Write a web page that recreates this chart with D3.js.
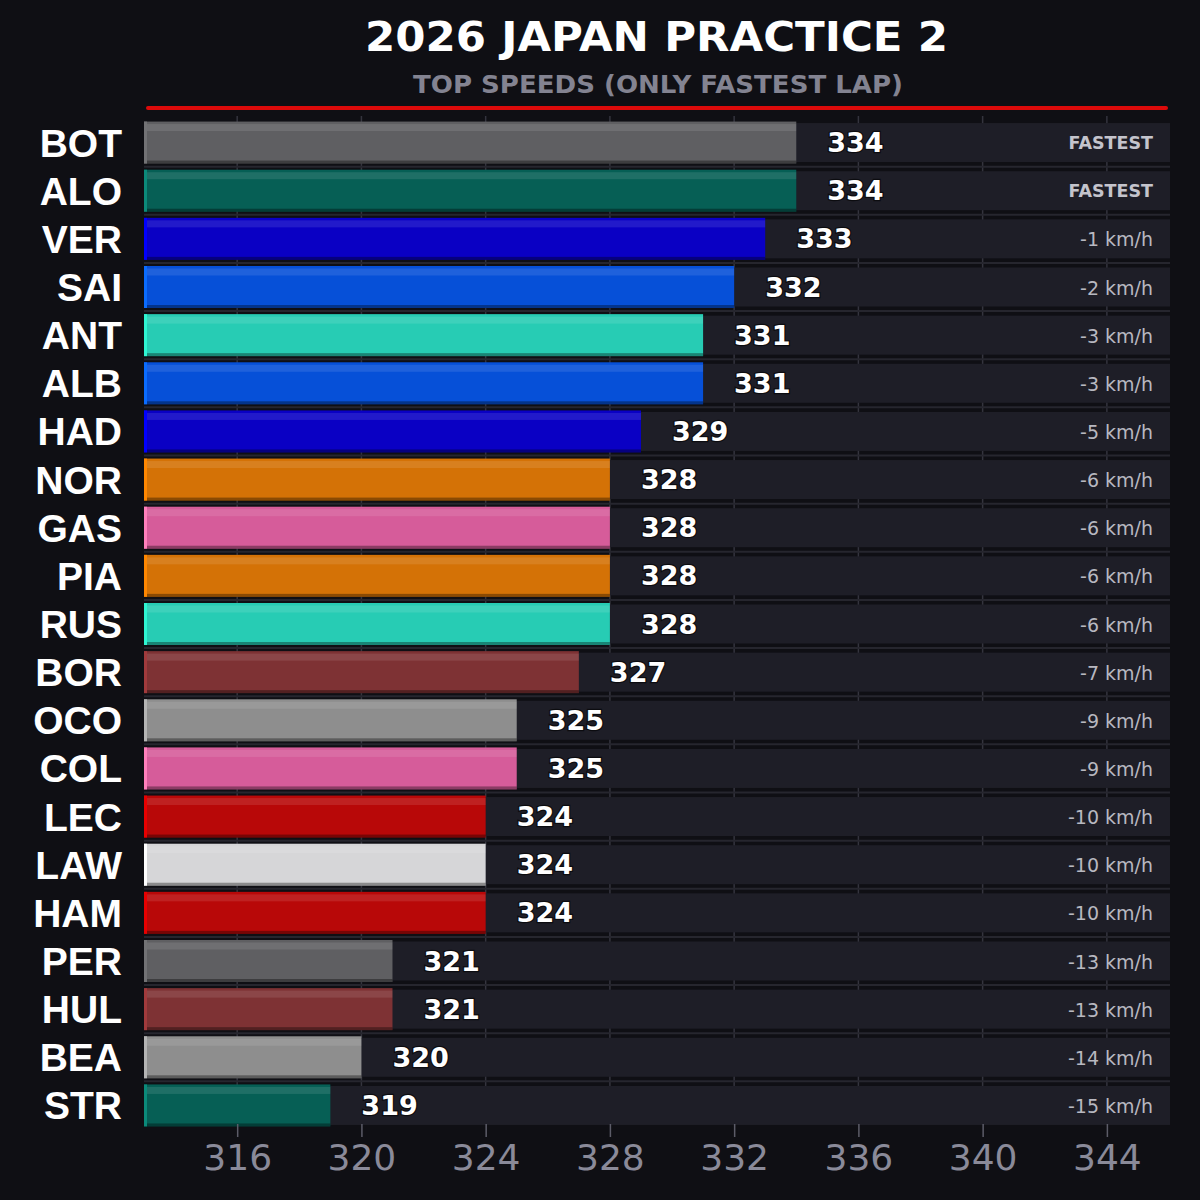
<!DOCTYPE html>
<html><head><meta charset="utf-8">
<script src="https://cdn.jsdelivr.net/npm/d3@7"></script>
<style>html,body{margin:0;padding:0;background:#0f0f14;}</style>
</head><body>
<svg id="chart" width="1200" height="1200"></svg>
<script>
const drivers = ["BOT","ALO","VER","SAI","ANT","ALB","HAD","NOR","GAS","PIA","RUS","BOR","OCO","COL","LEC","LAW","HAM","PER","HUL","BEA","STR"];
const speeds  = [334,334,333,332,331,331,329,328,328,328,328,327,325,325,324,324,324,321,321,320,319];
const barColors = ["#5f5f62","#065f55","#0a00c4","#0650d8","#27ccb4","#0650d8","#0a00c4","#d47206","#d65c9a","#d47206","#27ccb4","#7e3234","#8e8e8e","#d65c9a","#b80808","#d6d6d8","#b80808","#5f5f62","#7e3234","#8e8e8e","#065f55"];
const accentColors = ["#727275","#0b8a7a","#0000ff","#0a6cff","#2ef5d2","#0a6cff","#0000ff","#ff8700","#ff7fbb","#ff8700","#2ef5d2","#a03a3c","#b4b4b4","#ff7fbb","#e80000","#ffffff","#e80000","#727275","#a03a3c","#b4b4b4","#0b8a7a"];
const tickValues = [316,320,324,328,332,336,340,344];
const titleText = "2026 JAPAN PRACTICE 2";
const subtitleText = "TOP SPEEDS (ONLY FASTEST LAP)";

const svg = d3.select("#chart");
svg.append("rect").attr("width",1200).attr("height",1200).attr("fill","#0f0f14");

const x = d3.scaleLinear().domain([313,346]).range([144,1169]);
const y = d3.scaleBand().domain(drivers).range([118.5,1129.5]).paddingInner(0).paddingOuter(0);
const bw = y.bandwidth();
const cy = d => y(d) + bw/2;
const maxSpeed = d3.max(speeds);
const rows = drivers.map((d,i)=>({d, v:speeds[i], c:barColors[i], a:accentColors[i]}));

// title
svg.append("text").attr("x",656.5).attr("y",51).attr("text-anchor","middle")
  .attr("font-family","DejaVu Sans").attr("font-weight","bold").attr("font-size",41)
  .attr("fill","#ffffff").attr("textLength",583).attr("lengthAdjust","spacingAndGlyphs").text(titleText);
svg.append("text").attr("x",658).attr("y",93).attr("text-anchor","middle")
  .attr("font-family","DejaVu Sans").attr("font-weight","bold").attr("font-size",25)
  .attr("fill","#838391").attr("textLength",490).attr("lengthAdjust","spacingAndGlyphs").text(subtitleText);
svg.append("line").attr("x1",148).attr("x2",1166).attr("y1",108).attr("y2",108)
  .attr("stroke","#dc0a0a").attr("stroke-width",4).attr("stroke-linecap","round");

// vertical grid lines (visible in gaps)
svg.append("g").selectAll("line").data(tickValues).join("line")
  .attr("x1",d=>x(d)).attr("x2",d=>x(d)).attr("y1",116).attr("y2",1124)
  .attr("stroke","#34343e").attr("stroke-width",1.5);

// separator lines between rows
svg.append("g").selectAll("line").data(drivers.slice(1)).join("line")
  .attr("x1",144).attr("x2",1170).attr("y1",d=>y(d)).attr("y2",d=>y(d))
  .attr("stroke","#26262e").attr("stroke-width",2);

// row backgrounds
svg.append("g").selectAll("rect").data(rows).join("rect")
  .attr("x",144).attr("width",1170-144)
  .attr("y",r=>cy(r.d)-19.5).attr("height",39)
  .attr("fill","#1e1e27");

// bars
const bars = svg.append("g").selectAll("g").data(rows).join("g");
bars.append("rect").attr("x",x(313)).attr("width",r=>x(r.v)-x(313))
  .attr("y",r=>cy(r.d)-21).attr("height",42).attr("fill",r=>r.c);
bars.append("rect").attr("x",x(313)).attr("width",r=>x(r.v)-x(313))
  .attr("y",r=>cy(r.d)-18.5).attr("height",7).attr("fill","#ffffff").attr("opacity",0.1);
bars.append("rect").attr("x",x(313)).attr("width",r=>x(r.v)-x(313))
  .attr("y",r=>cy(r.d)+18).attr("height",3).attr("fill","#000000").attr("opacity",0.35);
bars.append("rect").attr("x",x(313)).attr("width",3)
  .attr("y",r=>cy(r.d)-21).attr("height",42).attr("fill",r=>r.a);

// value labels
bars.append("text").attr("x",r=>x(r.v)+31).attr("y",r=>cy(r.d)+9.5)
  .attr("font-family","DejaVu Sans").attr("font-weight","bold").attr("font-size",27)
  .attr("fill","#ffffff").attr("stroke","#0c0c10").attr("stroke-width",2.5)
  .attr("paint-order","stroke").text(r=>r.v);

// delta labels
bars.append("text").attr("x",1153).attr("text-anchor","end")
  .attr("y",r=>cy(r.d)+ (r.v===maxSpeed?6.5:7.5))
  .attr("font-family","DejaVu Sans")
  .attr("font-weight",r=>r.v===maxSpeed?"bold":"normal")
  .attr("font-size",r=>r.v===maxSpeed?17.5:19)
  .attr("fill",r=>r.v===maxSpeed?"#c4c4cc":"#b8b8c0")
  .text(r=>r.v===maxSpeed?"FASTEST":`-${maxSpeed-r.v} km/h`);

// driver labels
svg.append("g").selectAll("text").data(rows).join("text")
  .attr("x",122).attr("y",r=>cy(r.d)+14).attr("text-anchor","end")
  .attr("font-family","Liberation Sans").attr("font-weight","bold").attr("font-size",39)
  .attr("fill","#ffffff").text(r=>r.d);

// x axis
const axis = svg.append("g").attr("transform","translate(0,1124)")
  .call(d3.axisBottom(x).tickValues(tickValues).tickSize(13).tickPadding(0).tickFormat(d3.format("d")));
axis.select(".domain").remove();
axis.selectAll(".tick line").attr("stroke","#5c5c68").attr("stroke-width",1.5);
axis.selectAll(".tick text").attr("y",46).attr("dy",0)
  .attr("font-family","DejaVu Sans").attr("font-size",36).attr("fill","#8a8a99");
</script>
</body></html>
